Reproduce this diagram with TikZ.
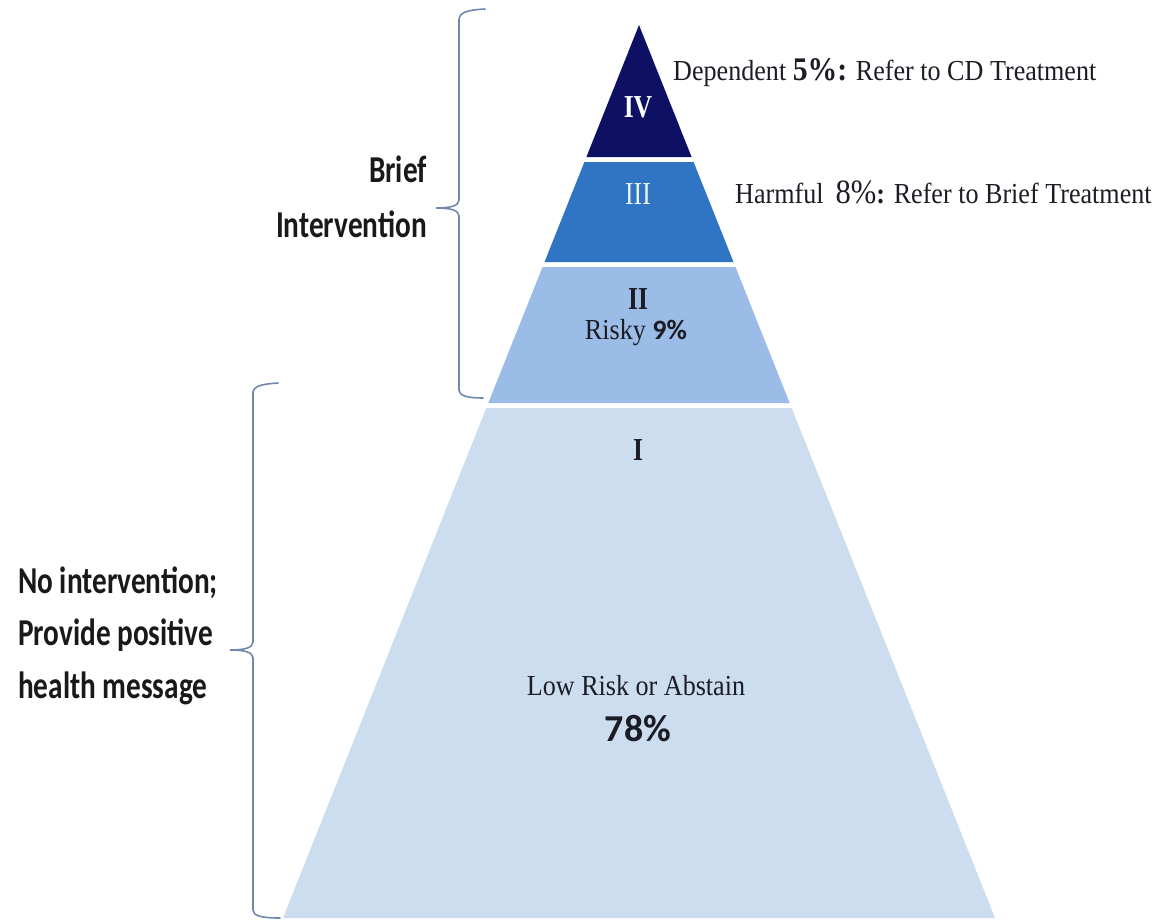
\documentclass[tikz,border=0pt]{standalone}
\usepackage{fontspec}
\setmainfont{Liberation Serif}[FakeStretch=0.9]
\newfontfamily\calib{Carlito}[FakeStretch=0.77]
\newfontfamily\calibn{Carlito}
\newfontfamily\romf{Liberation Serif}[FakeStretch=0.8]
\definecolor{cIV}{HTML}{0E1163}
\definecolor{cIII}{HTML}{3074C4}
\definecolor{cII}{HTML}{9BBCE6}
\definecolor{cI}{HTML}{CDDDF0}
\definecolor{brc}{HTML}{7088AA}
\definecolor{txt}{HTML}{1C1C24}
\tikzset{
  layer/.style={draw=none},
  brace/.style={draw=brc, line width=1.6pt, line cap=round},
  roman/.style={font=\romf\bfseries\fontsize{32}{34}\selectfont, anchor=base, inner sep=0pt},
  body/.style={font=\fontsize{29}{32}\selectfont, text=txt, anchor=base, inner sep=0pt},
  side/.style={font=\calib\bfseries\fontsize{38}{42}\selectfont, text=black!90, inner sep=0pt},
}
\begin{document}
\begin{tikzpicture}[x=1pt,y=-1pt]
\useasboundingbox (0,0) rectangle (1173,922);
\fill[white] (0,0) rectangle (1173,922);
% pyramid layers
\fill[cIV] (639,25) -- (691.6,157) -- (586.4,157) -- cycle;
\fill[cIII] (584.4,162) -- (693.6,162) -- (733.5,262) -- (544.5,262) -- cycle;
\fill[cII] (542.5,267) -- (735.5,267) -- (789.7,403) -- (488.3,403) -- cycle;
\fill[cI] (486.3,408) -- (791.7,408) -- (995,918) -- (283,918) -- cycle;
% braces
\draw[brace] (485,9) .. controls (468,10) and (459,12) .. (459,20) -- (459,200)
  .. controls (459,206) and (450,208) .. (436,208)
  .. controls (450,208) and (459,210) .. (459,216) -- (459,390)
  .. controls (459,396) and (468,398) .. (483,398);
\draw[brace] (278,383) .. controls (262,384) and (253,386) .. (253,393) -- (253,642)
  .. controls (253,648) and (244,650) .. (230,650)
  .. controls (244,650) and (253,652) .. (253,658) -- (253,910)
  .. controls (253,916) and (262,918) .. (280,918);
% layer labels
\node[roman, text=white] (lIV) at (638,117) {IV};
\node[roman, text=white!92!cIII, font=\romf\fontsize{32}{34}\selectfont] (lIII) at (638,204) {III};
\node[roman, text=txt] (lII) at (638,309) {II};
\node[body] (risky) at (636,339) {Risky {\calibn\bfseries\fontsize{28}{30}\selectfont 9\%}};
\node[roman, text=txt] (lI) at (638,460) {I};
\node[body] (low) at (636,695) {Low Risk or Abstain};
\node[anchor=base, inner sep=0pt, text=txt, font=\calibn\bfseries\fontsize{38}{40}\selectfont] (p78) at (638,741) {78\%};
% right texts
\node[body, anchor=base west] (dep) at (673,80) {Dependent {\fontsize{33}{34}\selectfont\bfseries 5\%:} Refer to CD Treatment};
\node[body, anchor=base west] (harm) at (735,203) {Harmful\hspace{12pt}{\fontsize{34}{34}\selectfont 8\%}\textbf{:} Refer to Brief Treatment};
% side texts
\node[side, anchor=base east] (brief1) at (427,182) {Brief};
\node[side, anchor=base east] (brief2) at (427,237) {Intervention};
\node[side, anchor=base west] (no1) at (18,593) {No intervention;};
\node[side, anchor=base west] (no2) at (18,645) {Provide positive};
\node[side, anchor=base west] (no3) at (18,698) {health message};
\end{tikzpicture}
\end{document}
